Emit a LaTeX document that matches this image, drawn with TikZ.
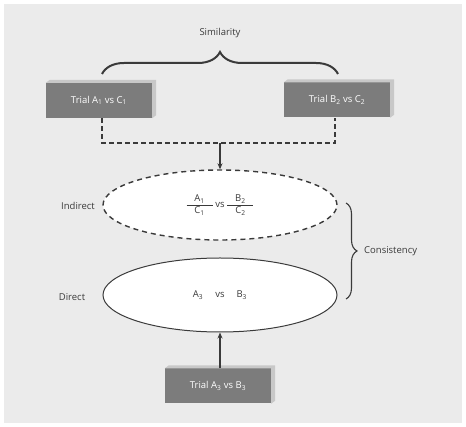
\documentclass[tikz,border=0pt]{standalone}
\usepackage{fontspec}
\setmainfont{Open Sans}
\usetikzlibrary{shapes.geometric,arrows.meta,decorations.pathreplacing}
\definecolor{bg}{HTML}{EBEBEB}
\definecolor{boxfill}{HTML}{7C7C7C}
\definecolor{boxshade}{HTML}{C8C8C8}
\definecolor{ink}{HTML}{3A3A3A}
\tikzset{
  trialbox/.style={rectangle, fill=boxfill, text=white, minimum width=106pt, minimum height=35pt, inner sep=0pt, font=\fontsize{9.5}{11}\selectfont},
  lbl/.style={text=ink, font=\fontsize{9.5}{11}\selectfont, inner sep=0pt},
  conn/.style={draw=ink, line width=1.3pt},
  arr/.style={conn, -{Stealth[length=6pt,width=5pt]}},
  oval/.style={ellipse, fill=white, draw=ink, minimum width=234pt, inner sep=0pt, font=\fontsize{9.5}{11}\selectfont, text=ink},
}
\newcommand{\shadebox}[1]{%
  \fill[boxshade] (#1.north west) -- ++(4pt,3pt) -- ([xshift=4pt,yshift=3pt]#1.north east) -- ([xshift=4pt,yshift=3pt]#1.south east) -- (#1.south east) -- (#1.north east) -- cycle;}
\newcommand{\myfrac}[2]{$\displaystyle\frac{\makebox[26pt]{#1}}{\makebox[26pt]{#2}}$}
\begin{document}
\begin{tikzpicture}[x=1pt,y=-1pt]
\useasboundingbox (0,0) rectangle (466,427);
\fill[white] (0,0) rectangle (466,427);
\fill[bg] (4,4) rectangle (462,423);

% boxes
\node[trialbox] (a) at (99,100.5) {Trial A\textsubscript{1} vs C\textsubscript{1}};
\node[trialbox] (b) at (337,100) {Trial B\textsubscript{2} vs C\textsubscript{2}};
\node[trialbox] (c) at (218,386) {Trial A\textsubscript{3} vs B\textsubscript{3}};
\shadebox{a}
\shadebox{b}
\shadebox{c}

% similarity brace
\node[lbl] (sim) at (220,33) {Similarity};
\coordinate (sl) at (102,74);
\coordinate (sr) at (338,74);
\draw[draw=ink, line width=2pt, decorate, decoration={brace, amplitude=22pt}] (sl) -- (sr);

% ellipses
\node[oval, minimum height=70pt, dashed, line width=1.4pt, dash pattern=on 5pt off 4pt] (ind) at (220,205) {%
  \myfrac{A\textsubscript{1}}{C\textsubscript{1}}\,vs\,\myfrac{B\textsubscript{2}}{C\textsubscript{2}}};
\node[oval, minimum height=74pt, line width=1pt] (dir) at (220,295) {A\textsubscript{3}\hspace{12pt}vs\hspace{12pt}B\textsubscript{3}};

% dashed join and arrows
\coordinate (j) at (220,143);
\draw[conn, dashed, line width=1.2pt, dash pattern=on 5pt off 3pt] (a.south -| 102,0) |- (j) -| (b.south -| 335,0);
\draw[arr] (j) -- (ind.north);
\draw[arr] (c.north -| dir.south) -- (dir.south);

% labels
\node[lbl] (indl) at (78,206) {Indirect};
\node[lbl] (dirl) at (72,297) {Direct};

% consistency brace
\coordinate (ct) at (346,203);
\coordinate (cb) at (346,299);
\draw[draw=ink, line width=1.1pt, decorate, decoration={brace, amplitude=11pt}] (ct) -- (cb);
\node[lbl, anchor=west] (cons) at (364,251) {Consistency};
\end{tikzpicture}
\end{document}
